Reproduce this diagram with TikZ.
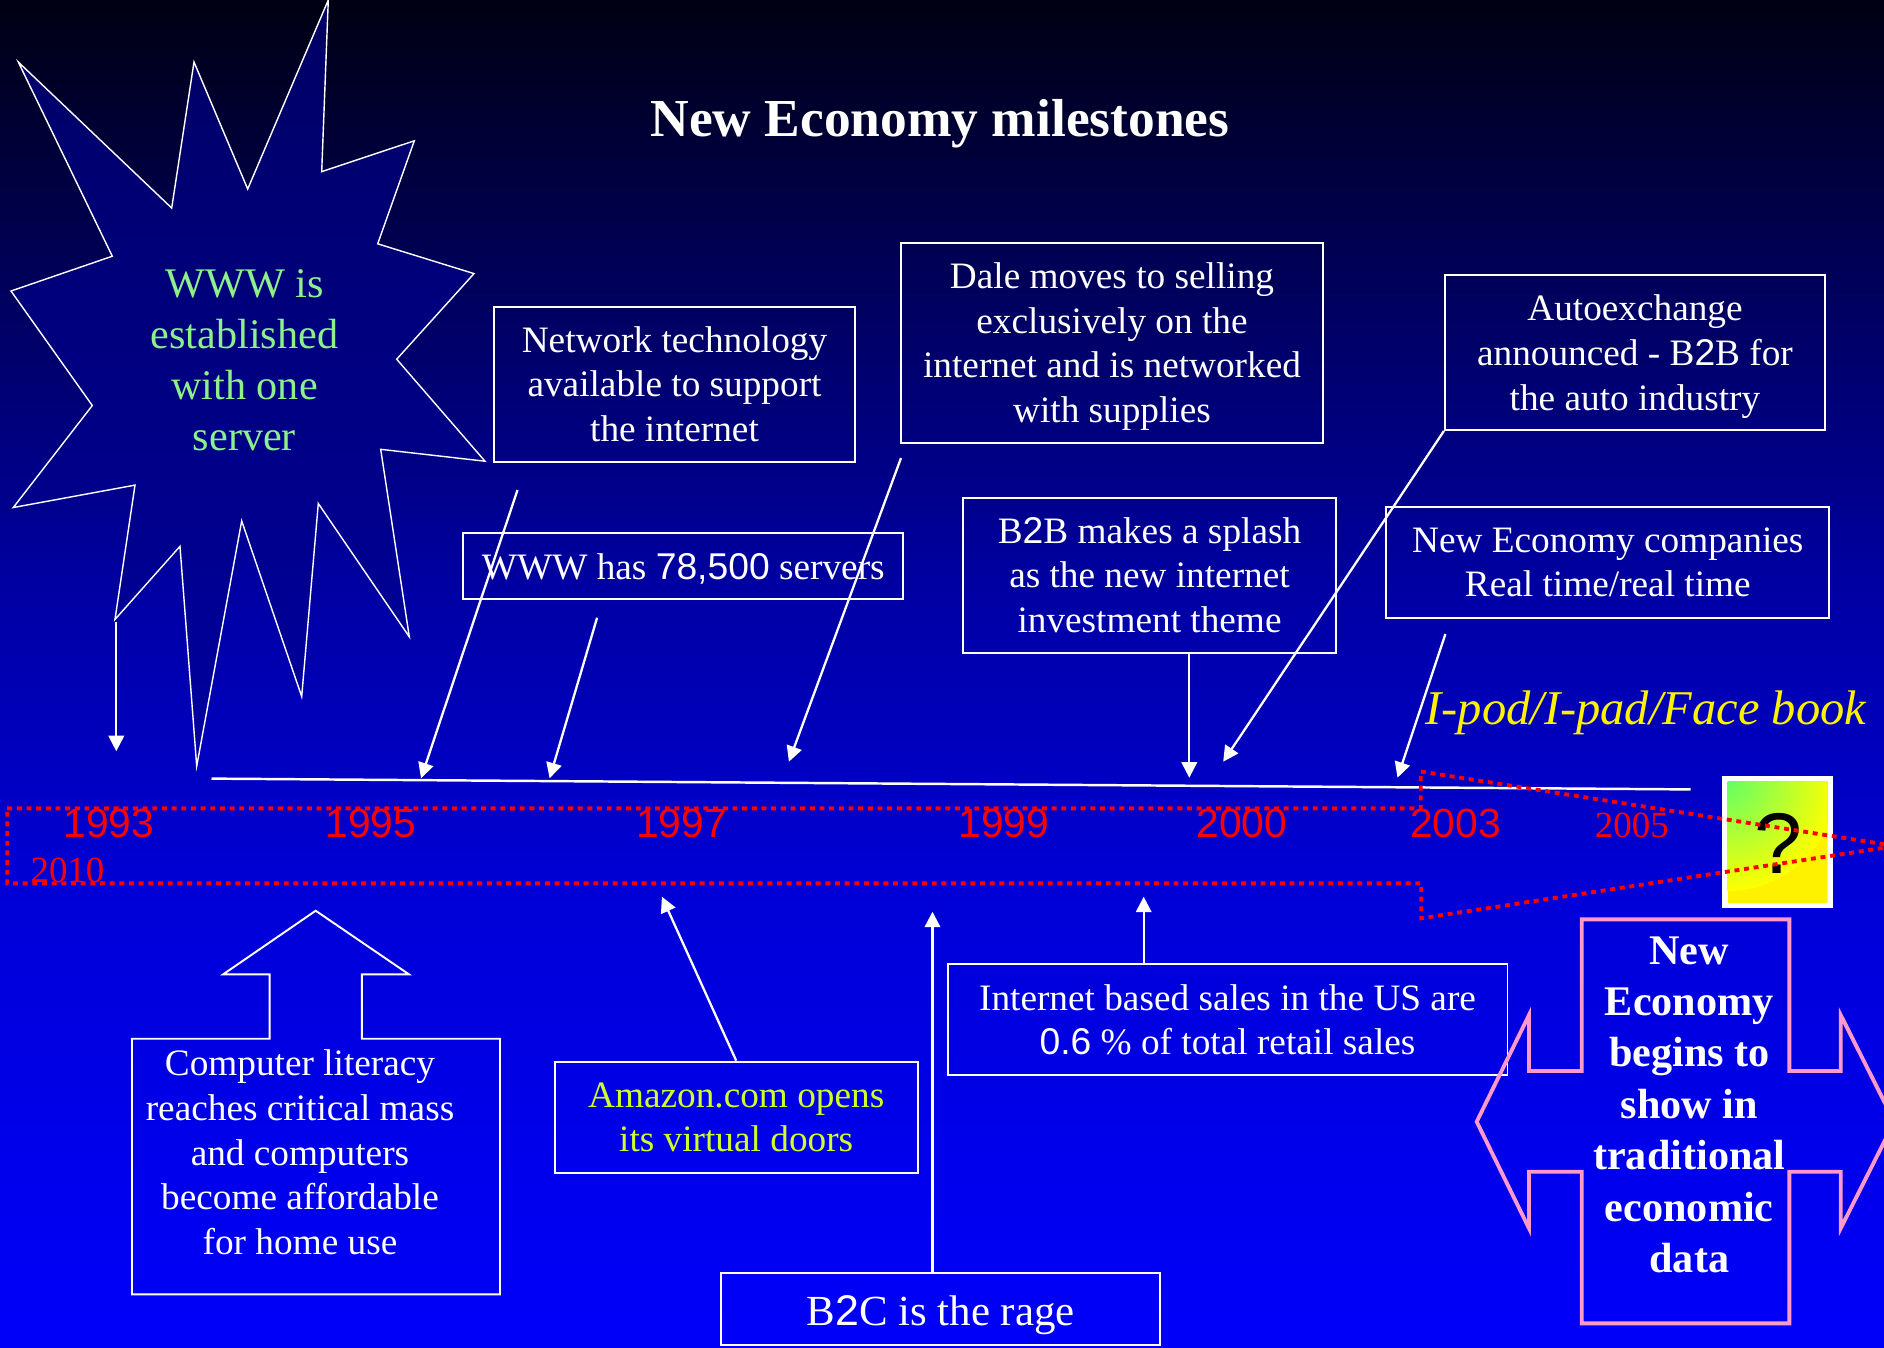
\documentclass[tikz,border=0pt]{standalone}
\usepackage{fontspec}
\setmainfont{Liberation Serif}
\newfontfamily\arialfont{Liberation Sans}
\usetikzlibrary{arrows.meta}

\definecolor{bgA}{RGB}{0,0,18}
\definecolor{bgB}{RGB}{0,0,95}
\definecolor{bgC}{RGB}{0,0,165}
\definecolor{bgD}{RGB}{0,0,215}
\definecolor{bgE}{RGB}{0,0,250}
\definecolor{starTop}{RGB}{0,0,100}
\definecolor{starBot}{RGB}{0,0,160}
\definecolor{wwwgreen}{RGB}{140,240,140}
\definecolor{amazongreen}{RGB}{210,255,40}
\definecolor{calloutpink}{RGB}{255,153,204}
\definecolor{qgreen}{RGB}{100,255,100}

\begin{document}
\begin{tikzpicture}[x=0.01cm, y=-0.01cm,
    mbox/.style={draw=white, line width=0.55pt, text=white, align=center, inner sep=0pt,
        font=\fontsize{10.6}{12.7}\selectfont},
    arr/.style={draw=white, line width=0.65pt, -{Triangle[width=4.4pt,length=4.4pt]}},
    yr/.style={text=red, anchor=base, font=\arialfont\fontsize{11.6}{13}\selectfont},
    yrserif/.style={text=red, anchor=base, font=\fontsize{10.5}{12}\selectfont},
    redline/.style={draw=red, line width=1.1pt, dash pattern=on 1.4pt off 1.35pt}]

    \clip (0,0) rectangle (1884,1347);

    % Background
    \shade[top color=bgA, bottom color=bgB] (0,-1) rectangle (1884,301);
    \shade[top color=bgB, bottom color=bgC] (0,300) rectangle (1884,601);
    \shade[top color=bgC, bottom color=bgD] (0,600) rectangle (1884,901);
    \shade[top color=bgD, bottom color=bgE] (0,900) rectangle (1884,1348);

    \node[text=white, anchor=base, font=\bfseries\fontsize{15.2}{18}\selectfont] (title) at (940,136) {New Economy milestones};

    % Explosion
    \path[draw=white, line width=0.4pt, top color=starTop, bottom color=starBot]
        (18.3,62) -- (171.7,208) -- (194,62) -- (247.7,189) -- (328.3,0) -- (321.7,171.6)
        -- (414.3,140.8) -- (377.7,243.8) -- (474,273.6) -- (396.7,359.2) -- (485,461.2)
        -- (380.7,449.3) -- (409.3,636.8) -- (318.3,503.5) -- (301.7,696.5) -- (241.7,520.9)
        -- (196.7,766.2) -- (180,546.3) -- (115,619.4) -- (135,485.1) -- (13.3,507.5)
        -- (92.3,405.5) -- (11,291) -- (112.3,256.2) -- cycle;
    \node[text=wwwgreen, align=center, font=\fontsize{12}{14.5}\selectfont] (www) at (244.5,360.6) {WWW is\\established\\with one\\server};

    % Timeline
    \coordinate (tlstart) at (211.5,778.6);
    \coordinate (tlend) at (1690.5,789.4);
    \draw[white, line width=0.7pt] (tlstart) -- (tlend);

    % Upper boxes
    \node[mbox, minimum width=3.61cm, minimum height=1.55cm] (net) at (674.5,384.2) {Network technology\\available to support\\the internet};
    \node[mbox, minimum width=4.22cm, minimum height=2cm] (dale) at (1112,342.7) {Dale moves to selling\\exclusively on the\\internet and is networked\\\smash{with supplies}};
    \node[mbox, minimum width=3.8cm, minimum height=1.55cm] (autox) at (1635,352.5) {Autoexchange\\announced - B{\arialfont 2}B for\\\smash{the auto industry}};
    \node[mbox, minimum width=4.4cm, minimum height=0.66cm, text depth=0pt] (servers) at (683.3,566.3) {WWW has {\arialfont 78,500} servers};
    \node[mbox, minimum width=3.72cm, minimum height=1.55cm] (splash) at (1149.5,575.1) {B{\arialfont 2}B makes a splash\\as the new internet\\investment theme};
    \node[mbox, minimum width=4.425cm, minimum height=1.11cm] (necomp) at (1607.8,562.2) {New Economy companies\\Real time/real time};

    % Lower boxes
    \node[mbox, minimum width=3.625cm, minimum height=1.11cm, text=amazongreen] (amazon) at (736.2,1117.2) {Amazon.com opens\\its virtual doors};
    \node[mbox, minimum width=5.596cm, minimum height=1.107cm] (sales) at (1227.5,1019.8) {Internet based sales in the US are\\{\arialfont 0.6} \% of total retail sales};
    \node[mbox, minimum width=4.388cm, minimum height=0.717cm, text height=9pt, text depth=0pt,
        font=\fontsize{12.2}{14}\selectfont] (b2c) at (940.6,1309.2) {B{\arialfont 2}C is the rage};

    % Up arrow callout
    \draw[white, line width=0.55pt] (132,1038.7) -- (269.6,1038.7) -- (269.6,974.3) -- (223.2,974.3)
        -- (315.7,910.7) -- (408.9,974.3) -- (361.8,974.3) -- (361.8,1038.7) -- (500,1038.7)
        -- (500,1294.3) -- (132,1294.3) -- cycle;
    \node[text=white, align=center, font=\fontsize{10.6}{12.7}\selectfont] (literacy) at (300,1152.3) {Computer literacy\\reaches critical mass\\and computers\\become affordable\\for home use};

    % Arrows down to the timeline
    \coordinate (starfoot) at (116.3,621.9);
    \coordinate (netfoot) at (517.5,490);
    \coordinate (serversfoot) at (597.1,617.7);
    \coordinate (dalefoot) at (901,458);
    \coordinate (necompfoot) at (1445.4,634);
    \coordinate (on93) at (116.3,751.2);
    \coordinate (on95) at (421,778.3);
    \coordinate (on96) at (549.6,778.3);
    \coordinate (on97) at (788.9,761.7);
    \coordinate (on99) at (1189.3,777.7);
    \coordinate (on00) at (1223.2,761.7);
    \coordinate (on03) at (1397.5,777.7);
    \draw[arr] (starfoot) -- (on93);
    \draw[arr] (netfoot) -- (on95);
    \draw[arr] (serversfoot) -- (on96);
    \draw[arr] (dalefoot) -- (on97);
    \draw[arr] (splash.south -| on99) -- (on99);
    \draw[arr] (autox.south west) -- (on00);
    \draw[arr] (necompfoot) -- (on03);

    % Arrows up from the lower boxes
    \coordinate (up97) at (661.9,896.7);
    \coordinate (up98) at (932.5,911.7);
    \coordinate (up00) at (1143.7,896.7);
    \draw[arr] (amazon.north) -- (up97);
    \draw[arr] (b2c.north -| up98) -- (up98);
    \draw[arr] (sales.north -| up00) -- (up00);

    % Question box
    \fill[white] (1721.7,775.7) rectangle (1833.3,908.3);
    \begin{scope}
        \clip (1727.7,781) rectangle (1827.7,902.7);
        \fill[yellow] (1727.7,781) rectangle (1827.7,902.7);
        \shade[inner color=qgreen, outer color=yellow] (1727.7,781) circle (110);
    \end{scope}
    \node[anchor=base, font=\arialfont\fontsize{24.5}{28}\selectfont] (qmark) at (1778,873) {?};

    % Dotted arrow
    \draw[redline] (7.2,808.3) -- (1420.8,808.3) -- (1420.8,771.5) -- (1895.5,846) -- (1421.2,918.3)
        -- (1421.2,883.3) -- (7.2,883.3) -- cycle;

    % Years
    \node[yr] (y93) at (108.8,837.3) {1993};
    \node[yr] (y95) at (371,837.3) {1995};
    \node[yr] (y97) at (681.6,837.3) {1997};
    \node[yr] (y99) at (1004,837.3) {1999};
    \node[yr] (y00) at (1242,837.3) {2000};
    \node[yr] (y03) at (1455.6,837.3) {2003};
    \node[yrserif] (y05) at (1631.8,837.3) {2005};
    \node[yrserif] (y10) at (67.5,882.7) {2010};

    \node[text=yellow, anchor=base, font=\itshape\fontsize{13.8}{16}\selectfont] (ipod) at (1645.8,724) {I-pod/I-pad/Face book};

    % Left-right arrow callout
    \draw[calloutpink, line width=1.1pt] (1581.7,919.3) -- (1789.3,919.3) -- (1789.3,1071) -- (1840.7,1071)
        -- (1840.7,1015) -- (1894.3,1121.7) -- (1840.7,1228.3) -- (1840.7,1171.7) -- (1789.3,1171.7)
        -- (1789.3,1323.3) -- (1581.7,1323.3) -- (1581.7,1171.7) -- (1529,1171.7) -- (1529,1228.3)
        -- (1476.7,1121.7) -- (1529,1015) -- (1529,1071) -- (1581.7,1071) -- cycle;
    \node[text=white, align=center, font=\bfseries\fontsize{12}{14.6}\selectfont] (neweco) at (1689.3,1104.7) {New\\Economy\\begins to\\show in\\traditional\\economic\\data};
\end{tikzpicture}
\end{document}
